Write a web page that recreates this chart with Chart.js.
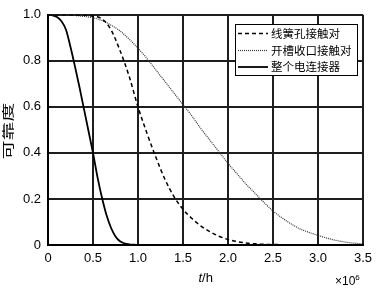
<!DOCTYPE html>
<html>
<head>
<meta charset="utf-8">
<script src="https://cdn.jsdelivr.net/npm/chart.js@4.4.0/dist/chart.umd.min.js"></script>
<style>
  html, body { margin: 0; padding: 0; background: #fff; }
  #wrap { width: 378px; height: 292px; }
</style>
</head>
<body>
<div id="wrap"><canvas id="relChart"></canvas></div>
<script>
// time in 10^6 h, reliability
const seriesLabels = ['线簧孔接触对', '开槽收口接触对', '整个电连接器'];

const springT = [0, 0.1, 0.2, 0.3, 0.4, 0.5, 0.6, 0.7, 0.8, 0.9, 1.0, 1.1, 1.2, 1.3, 1.4, 1.5, 1.6, 1.7, 1.8, 1.9, 2.0, 2.1, 2.2, 2.3, 2.4, 2.5, 2.7, 2.9];
const springR = [1, 1, 1, 0.999, 0.998, 0.994, 0.982, 0.935, 0.845, 0.735, 0.6, 0.485, 0.38, 0.285, 0.21, 0.155, 0.115, 0.082, 0.058, 0.038, 0.024, 0.015, 0.009, 0.005, 0.003, 0.002, 0.001, 0];

const slotT = [0, 0.1, 0.2, 0.3, 0.4, 0.5, 0.6, 0.7, 0.8, 0.9, 1.0, 1.1, 1.2, 1.3, 1.4, 1.5, 1.6, 1.7, 1.8, 1.9, 2.0, 2.1, 2.2, 2.3, 2.4, 2.5, 2.6, 2.7, 2.8, 2.9, 3.0, 3.1, 3.2, 3.3, 3.4, 3.5];
const slotR = [1, 1, 0.999, 0.997, 0.993, 0.987, 0.975, 0.955, 0.93, 0.895, 0.855, 0.81, 0.76, 0.71, 0.66, 0.61, 0.56, 0.505, 0.455, 0.405, 0.355, 0.31, 0.265, 0.225, 0.185, 0.148, 0.118, 0.092, 0.07, 0.055, 0.042, 0.03, 0.02, 0.013, 0.008, 0.005];

const wholeT = [0, 0.05, 0.1, 0.15, 0.2, 0.25, 0.3, 0.35, 0.4, 0.45, 0.5, 0.55, 0.6, 0.65, 0.7, 0.75, 0.8, 0.85, 0.9, 0.95, 1.0];
const wholeR = [1, 0.998, 0.99, 0.972, 0.935, 0.86, 0.775, 0.685, 0.59, 0.495, 0.4, 0.295, 0.205, 0.13, 0.075, 0.037, 0.016, 0.007, 0.003, 0.001, 0];

const xTicks = [0, 0.5, 1, 1.5, 2, 2.5, 3, 3.5];
const yTicks = [0, 0.2, 0.4, 0.6, 0.8, 1];

function pts(ts, rs) {
    return ts.map((t, i) => ({ x: t, y: rs[i] }));
}

const numFont = { family: '"Liberation Sans", Arial, sans-serif', size: 13 };
const cjkFont = '"Noto Sans CJK SC", "Noto Sans", sans-serif';

// legend box inside the plot, y title and the t/h, x10^6 labels
const extras = {
    id: 'extras',
    afterDraw(chart) {
        const ctx = chart.ctx;
        const ds = chart.data.datasets;
        ctx.save();
        // legend
        const bx = 235.5, by = 24.5, bw = 122, bh = 51;
        ctx.fillStyle = '#fff';
        ctx.fillRect(bx, by, bw, bh);
        ctx.strokeStyle = '#000';
        ctx.lineWidth = 1;
        ctx.setLineDash([]);
        ctx.strokeRect(bx, by, bw, bh);
        const rows = [33.5, 50.5, 67];
        ds.forEach((d, i) => {
            ctx.beginPath();
            ctx.setLineDash(d.borderDash || []);
            ctx.lineWidth = d.borderWidth;
            ctx.strokeStyle = d.borderColor;
            ctx.moveTo(238, rows[i]);
            ctx.lineTo(268, rows[i]);
            ctx.stroke();
            ctx.setLineDash([]);
            ctx.fillStyle = '#000';
            ctx.font = '11.5px ' + cjkFont;
            ctx.textBaseline = 'middle';
            ctx.textAlign = 'left';
            ctx.fillText(d.label, 271, rows[i]);
        });
        // y title, stretched along its length like the original
        ctx.save();
        ctx.translate(8, 131);
        ctx.rotate(-Math.PI / 2);
        ctx.scale(1.5, 1);
        ctx.font = '12.5px ' + cjkFont;
        ctx.textAlign = 'center';
        ctx.textBaseline = 'middle';
        ctx.fillStyle = '#000';
        ctx.fillText('可靠度', 0, 0);
        ctx.restore();
        // x title: italic t
        ctx.fillStyle = '#000';
        ctx.textBaseline = 'middle';
        ctx.textAlign = 'left';
        ctx.font = 'italic 13px "Liberation Sans", Arial, sans-serif';
        ctx.fillText('t', 198.5, 278);
        const tw = ctx.measureText('t').width;
        ctx.font = '13px "Liberation Sans", Arial, sans-serif';
        ctx.fillText('/h', 198.5 + tw, 278);
        // multiplier
        ctx.font = '12px "Liberation Sans", Arial, sans-serif';
        ctx.fillText('×10', 335, 282);
        const mw = ctx.measureText('×10').width;
        ctx.font = '8px "Liberation Sans", Arial, sans-serif';
        ctx.fillText('6', 335 + mw, 278);
        ctx.restore();
    }
};

const gridOpts = { color: 'rgb(30,30,30)', lineWidth: 2, drawTicks: false };

new Chart(document.getElementById('relChart').getContext('2d'), {
    type: 'line',
    data: {
        datasets: [
            {
                label: seriesLabels[0],
                data: pts(springT, springR),
                borderColor: '#000',
                borderWidth: 1.5,
                borderDash: [4, 3],
                pointRadius: 0,
                cubicInterpolationMode: 'monotone'
            },
            {
                label: seriesLabels[1],
                data: pts(slotT, slotR),
                borderColor: '#333',
                borderWidth: 1.2,
                borderDash: [1, 1],
                pointRadius: 0,
                cubicInterpolationMode: 'monotone'
            },
            {
                label: seriesLabels[2],
                data: pts(wholeT, wholeR),
                borderColor: '#000',
                borderWidth: 1.8,
                pointRadius: 0,
                cubicInterpolationMode: 'monotone'
            }
        ]
    },
    options: {
        responsive: true,
        maintainAspectRatio: false,
        animation: false,
        layout: { padding: { top: 7, right: 14, bottom: 0, left: 0 } },
        plugins: {
            legend: { display: false },
            tooltip: { enabled: false }
        },
        scales: {
            x: {
                type: 'linear',
                min: 0,
                max: 3.5,
                afterBuildTicks: (s) => { s.ticks = xTicks.map(v => ({ value: v })); },
                afterFit: (s) => { s.height = 47; },
                ticks: { font: numFont, color: '#000', padding: 6, maxRotation: 0 },
                grid: gridOpts,
                border: { color: '#000', width: 2 }
            },
            y: {
                min: 0,
                max: 1,
                afterBuildTicks: (s) => { s.ticks = yTicks.map(v => ({ value: v })); },
                afterFit: (s) => { s.width = 48; },
                ticks: { font: numFont, color: '#000', padding: 7 },
                grid: gridOpts,
                border: { color: '#000', width: 2 }
            }
        }
    },
    plugins: [extras]
});
</script>
</body>
</html>
